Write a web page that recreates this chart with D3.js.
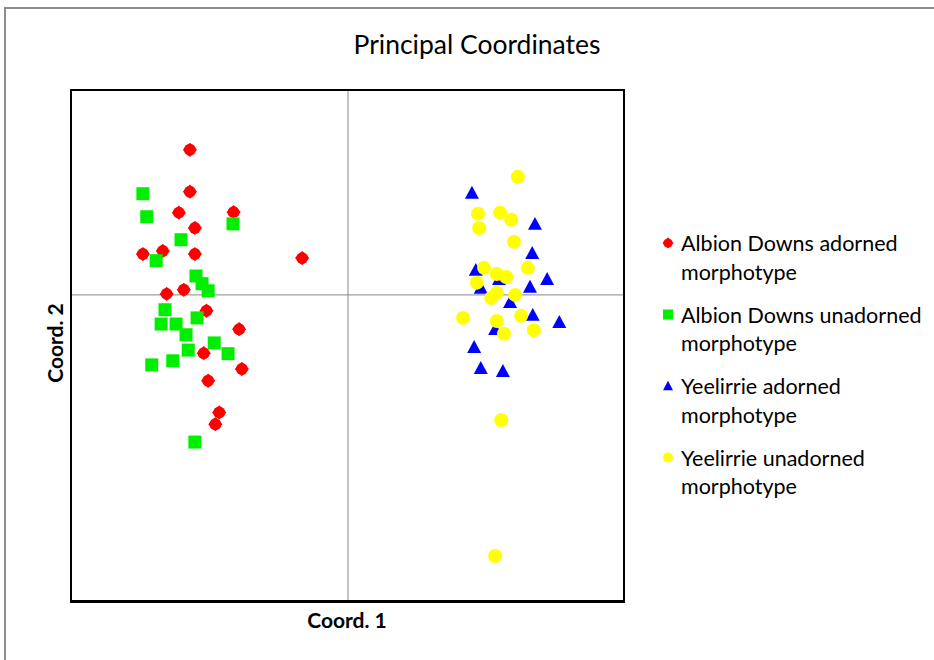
<!DOCTYPE html>
<html><head><meta charset="utf-8">
<script src="https://cdn.jsdelivr.net/npm/d3@7"></script>
<style>
html,body{margin:0;padding:0;background:#fff;}
svg{display:block;font-family:Lato,"Open Sans",sans-serif;}
</style></head>
<body><svg id="c" width="934" height="660"></svg>
<script>
// Data (Coord. 1, Coord. 2)
const seriesNames = ["Albion Downs adorned morphotype","Albion Downs unadorned morphotype","Yeelirrie adorned morphotype","Yeelirrie unadorned morphotype"];
const legendLines = [["Albion Downs adorned","morphotype"],["Albion Downs unadorned","morphotype"],["Yeelirrie adorned","morphotype"],["Yeelirrie unadorned","morphotype"]];
const albionAdorned = [
 [-0.285,0.283],[-0.285,0.201],[-0.305,0.160],[-0.206,0.161],[-0.276,0.130],[-0.370,0.079],
 [-0.334,0.085],[-0.276,0.079],[-0.082,0.071],[-0.296,0.009],[-0.327,0.001],[-0.255,-0.032],
 [-0.196,-0.068],[-0.260,-0.115],[-0.191,-0.146],[-0.252,-0.169],[-0.232,-0.231],[-0.239,-0.254]];
const albionUnadorned = [
 [-0.370,0.197],[-0.363,0.152],[-0.207,0.138],[-0.301,0.107],[-0.346,0.066],[-0.274,0.036],
 [-0.263,0.021],[-0.252,0.007],[-0.330,-0.030],[-0.337,-0.058],[-0.310,-0.058],[-0.272,-0.046],
 [-0.292,-0.079],[-0.241,-0.095],[-0.288,-0.109],[-0.216,-0.116],[-0.354,-0.138],[-0.316,-0.130],
 [-0.276,-0.289]];
const yeelirrieAdorned = [
 [0.225,0.199],[0.339,0.138],[0.334,0.081],[0.232,0.048],[0.274,0.030],[0.361,0.030],
 [0.241,0.013],[0.330,0.015],[0.294,-0.015],[0.335,-0.040],[0.383,-0.054],[0.267,-0.068],
 [0.229,-0.103],[0.241,-0.144],[0.281,-0.150]];
const yeelirrieUnadorned = [
 [0.308,0.230],[0.236,0.158],[0.276,0.160],[0.296,0.146],[0.238,0.130],[0.301,0.103],
 [0.247,0.052],[0.326,0.052],[0.270,0.040],[0.287,0.034],[0.234,0.023],[0.270,0.003],
 [0.260,-0.007],[0.303,-0.001],[0.209,-0.046],[0.314,-0.042],[0.270,-0.052],[0.337,-0.070],
 [0.283,-0.077],[0.278,-0.246],[0.267,-0.512]];
const xDomain = [-0.5,0.5];
const yDomain = [-0.6,0.4];
const colors = ["#ff0000","#00ee00","#0000ff","#ffff00"];
const shapes = ["star","square","triangle","circle"];

const svg = d3.select("#c");
const L=71, R=624, T=90, B=601;
const x = d3.scaleLinear().domain(xDomain).range([L,R]);
const y = d3.scaleLinear().domain(yDomain).range([B,T]);

// outer frame (left and top only visible)
svg.append("line").attr("x1",5).attr("x2",5).attr("y1",8).attr("y2",660).attr("stroke","#8c8c8c").attr("stroke-width",2);
svg.append("line").attr("x1",4).attr("x2",934).attr("y1",8).attr("y2",8).attr("stroke","#8c8c8c").attr("stroke-width",2);

svg.append("text").attr("x",477).attr("y",54).attr("text-anchor","middle")
  .attr("font-size",26.5).attr("fill","#000").text("Principal Coordinates");

// axes through origin
const gx = svg.append("g").attr("transform",`translate(0,${y(0)})`)
  .call(d3.axisBottom(x).ticks(0).tickSize(0).tickFormat(""));
gx.select(".domain").attr("stroke","#888").attr("stroke-width",1);
const gy = svg.append("g").attr("transform",`translate(${x(0)},0)`)
  .call(d3.axisLeft(y).ticks(0).tickSize(0).tickFormat(""));
gy.select(".domain").attr("stroke","#888").attr("stroke-width",1);

// plot border
svg.append("rect").attr("x",L).attr("y",T).attr("width",R-L).attr("height",B-T)
  .attr("fill","none").attr("stroke","#000").attr("stroke-width",2);
svg.append("line").attr("x1",L-1).attr("x2",R+1).attr("y1",B+0.5).attr("y2",B+0.5).attr("stroke","#000").attr("stroke-width",3);

function drawMarker(g, shape, color, cx, cy, s){
  if(shape==="star"){
    const h=s*0.55;
    g.append("path").attr("d",`M${cx},${cy-h}L${cx+h},${cy}L${cx},${cy+h}L${cx-h},${cy}Z`).attr("fill",color);
    g.append("circle").attr("cx",cx).attr("cy",cy).attr("r",s*0.46).attr("fill",color);
  } else if(shape==="square"){
    g.append("rect").attr("x",cx-s/2).attr("y",cy-s/2).attr("width",s).attr("height",s).attr("fill",color);
  } else if(shape==="triangle"){
    const h=s*0.85;
    g.append("path").attr("d",`M${cx},${cy-h/2-1}L${cx+s/2},${cy+h/2}L${cx-s/2},${cy+h/2}Z`).attr("fill",color);
  } else {
    g.append("circle").attr("cx",cx).attr("cy",cy).attr("r",s/2).attr("fill",color);
  }
}

const all = [albionAdorned, albionUnadorned, yeelirrieAdorned, yeelirrieUnadorned];
const sizes = [13,13,14,14];
all.forEach((data,i)=>{
  const g = svg.append("g").attr("class","series");
  data.forEach(d=>drawMarker(g, shapes[i], colors[i], x(d[0]), y(d[1]), sizes[i]));
});

// axis titles
svg.append("text").attr("x",347).attr("y",628).attr("text-anchor","middle")
  .attr("font-size",21).attr("font-weight","bold").text("Coord. 1");
svg.append("text").attr("transform","translate(63,343) rotate(-90)").attr("text-anchor","middle")
  .attr("font-size",21).attr("font-weight","bold").text("Coord. 2");

// legend
const lg = svg.append("g");
legendLines.forEach((lines,i)=>{
  const cy = 243 + i*71.5;
  drawMarker(lg, shapes[i], colors[i], 668, cy, 10);
  lines.forEach((t,j)=>{
    lg.append("text").attr("x",681).attr("y",cy+8+j*28.5).attr("font-size",21.5).attr("fill","#000").text(t);
  });
});
</script></body></html>
